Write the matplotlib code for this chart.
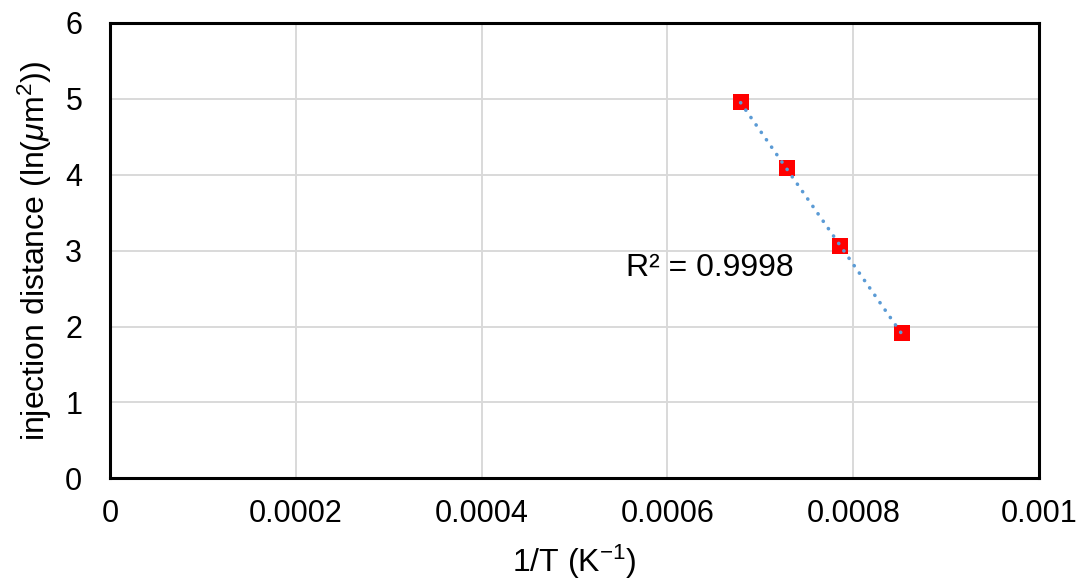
import numpy as np
import matplotlib
matplotlib.use("Agg")
import matplotlib.pyplot as plt

plt.rcParams['font.family'] = ['Liberation Sans', 'DejaVu Sans']
plt.rcParams['mathtext.fontset'] = 'custom'
plt.rcParams['mathtext.rm'] = 'Liberation Sans'
plt.rcParams['mathtext.it'] = 'Liberation Sans:italic'

inv_T = [0.0006788, 0.0007283, 0.0007856, 0.0008523]
ln_dist = [4.955, 4.084, 3.055, 1.913]
x_ticks = [0, 0.0002, 0.0004, 0.0006, 0.0008, 0.001]
x_tick_labels = ["0", "0.0002", "0.0004", "0.0006", "0.0008", "0.001"]
y_ticks = [0, 1, 2, 3, 4, 5, 6]
r2_label = "R² = 0.9998"

FS = 22
LFS = 23

fig = plt.figure(figsize=(10.81, 5.8), dpi=100)
ax = fig.add_axes([110/1081, (580-478.3)/580, (1039-110)/1081, (478.3-23)/580])

x = np.array(inv_T)
y = np.array(ln_dist)
coef = np.polyfit(x, y, 1)
xf = np.array([x.min(), x.max()])
ax.plot(xf, np.polyval(coef, xf), linestyle=(0, (0.05, 2.45)), color='#5B9BD5',
        linewidth=2.6, dash_capstyle='round', zorder=4)
ax.scatter(x, y, marker='s', s=140, color='#FF0000', zorder=3, linewidths=0)

ax.set_xlim(0, 0.001)
ax.set_ylim(0, 6)
ax.set_xticks(x_ticks)
ax.set_xticklabels(x_tick_labels)
ax.set_yticks(y_ticks)
ax.grid(True, color='#D9D9D9', linewidth=1.4)
ax.set_axisbelow(True)
ax.tick_params(length=0, labelsize=FS)
ax.tick_params(axis='y', pad=20)
ax.tick_params(axis='x', pad=15)
for s in ax.spines.values():
    s.set_color('black')
    s.set_linewidth(2.2)

ax.text(0.000646, 2.77, r2_label, fontsize=LFS, ha='center', va='center')
ax.set_xlabel("1/T (K$^{\\mathregular{-1}}$)", fontsize=LFS, labelpad=10)
ax.set_ylabel("injection distance (ln($\\mathit{\\mu}$m$^{\\mathregular{2}}$))", fontsize=LFS, labelpad=8)

fig.savefig("out.png", dpi=100)
